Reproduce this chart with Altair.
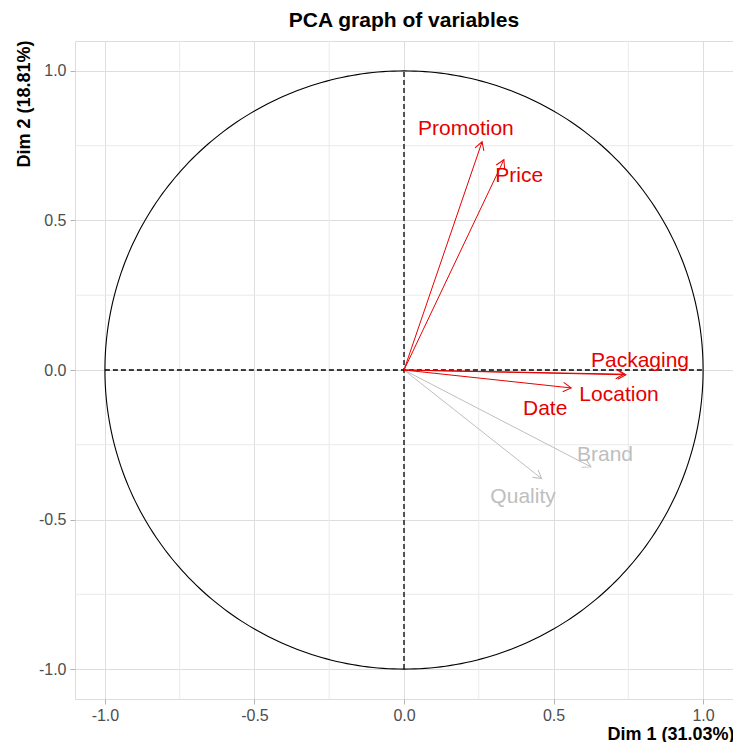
import altair as alt
import numpy as np
import pandas as pd

# ---- data ----
variables = ["Brand", "Quality", "Promotion", "Price", "Packaging", "Date", "Location"]
dim1 = [0.625, 0.460, 0.261, 0.334, 0.742, 0.735, 0.559]
dim2 = [-0.324, -0.363, 0.763, 0.703, -0.016, -0.014, -0.060]
quality_group = ["low", "low", "high", "high", "high", "high", "high"]
label_x = [0.672, 0.398, 0.207, 0.385, 0.789, 0.472, 0.719]
label_y = [-0.283, -0.423, 0.807, 0.647, 0.030, -0.130, -0.083]

chart_title = "PCA graph of variables"
x_title = "Dim 1 (31.03%)"
y_title = "Dim 2 (18.81%)"
major_breaks = [-1.0, -0.5, 0.0, 0.5, 1.0]
minor_breaks = [-0.75, -0.25, 0.25, 0.75]

FONT = "Liberation Sans"
W = 658
H = 658

df = pd.DataFrame({
    "variable": variables,
    "x": dim1,
    "y": dim2,
    "grp": quality_group,
    "lx": label_x,
    "ly": label_y,
})
df["x0"] = 0.0
df["y0"] = 0.0

t = np.linspace(0, 2 * np.pi, 361)
circle = pd.DataFrame({"cx": np.cos(t), "cy": np.sin(t), "i": np.arange(len(t))})
refs = pd.DataFrame({"x": [-1.0, 0.0], "x2": [1.0, 0.0], "y": [0.0, -1.0], "y2": [0.0, 1.0]})
minor = pd.DataFrame({"v": minor_breaks})

sc = alt.Scale(domain=[-1.1, 1.1], nice=False, zero=False)
lab_expr = "(datum.value < 0 ? '-' : '') + format(abs(datum.value), '.1f')"

xaxis = alt.Axis(
    values=major_breaks, labelExpr=lab_expr, grid=True, gridColor="#DEDEDE",
    domain=False, ticks=True, tickColor="#B3B3B3", tickSize=5,
    labelColor="#4D4D4D", labelFontSize=16, labelFont=FONT, labelPadding=3,
    title=x_title, titleFont=FONT, titleFontSize=18, titleFontWeight="bold",
    titleColor="black", titleX=W + 1, titleY=35, titleAlign="right",
    titleBaseline="middle",
)
yaxis = alt.Axis(
    values=major_breaks, labelExpr=lab_expr, grid=True, gridColor="#DEDEDE",
    domain=False, ticks=True, tickColor="#B3B3B3", tickSize=5,
    labelColor="#4D4D4D", labelFontSize=16, labelFont=FONT, labelPadding=4,
    title=y_title, titleFont=FONT, titleFontSize=18, titleFontWeight="bold",
    titleColor="black", titleX=-51, titleY=-1, titleAngle=270,
    titleAlign="right", titleBaseline="middle",
)


def X(f):
    return alt.X(f, type="quantitative", scale=sc, axis=xaxis)


def Y(f):
    return alt.Y(f, type="quantitative", scale=sc, axis=yaxis)


color = alt.Color(
    "grp:N",
    scale=alt.Scale(domain=["low", "high"], range=["#BEBEBE", "#E60000"]),
    legend=None,
)

minor_v = alt.Chart(minor).mark_rule(color="#EAEAEA", strokeWidth=1).encode(x=X("v"))
minor_h = alt.Chart(minor).mark_rule(color="#EAEAEA", strokeWidth=1).encode(y=Y("v"))

circ = alt.Chart(circle).mark_line(color="black", strokeWidth=1.1).encode(
    x=X("cx"), y=Y("cy"), order="i:Q"
)

ref = alt.Chart(refs).mark_rule(color="black", strokeWidth=1.3, strokeDash=[5, 3]).encode(
    x=X("x"), x2="x2:Q", y=Y("y"), y2="y2:Q"
)

arrows = alt.Chart(df).mark_rule(strokeWidth=1).encode(
    x=X("x0"), x2="x:Q", y=Y("y0"), y2="y:Q", color=color
)

heads = alt.Chart(df).transform_calculate(
    ang="(360 - atan2(datum.y, datum.x) * 180 / PI) % 360"
).mark_point(
    shape="M-1,-0.58L0,0L-1,0.58", filled=False, size=260, strokeWidth=1, opacity=1
).encode(
    x=X("x"), y=Y("y"), color=color, angle=alt.Angle("ang:Q", scale=None)
)

labels = alt.Chart(df).mark_text(
    font=FONT, fontSize=21, align="center", baseline="middle"
).encode(
    x=X("lx"), y=Y("ly"), text="variable:N", color=color
)

chart = alt.layer(minor_v, minor_h, ref, circ, arrows, heads, labels).properties(
    width=W,
    height=H,
    padding={"left": 67, "top": 33, "right": 0, "bottom": 43},
    autosize=alt.AutoSizeParams(type="none"),
    title=alt.TitleParams(
        text=chart_title, font=FONT, fontSize=21, fontWeight="bold",
        anchor="middle", frame="group", offset=14, dy=22, baseline="alphabetic",
        color="black",
    ),
).configure_view(stroke="#B3B3B3", strokeWidth=1).configure(background="white")

chart.save("out.html", embed_options={"renderer": "svg", "actions": False})
